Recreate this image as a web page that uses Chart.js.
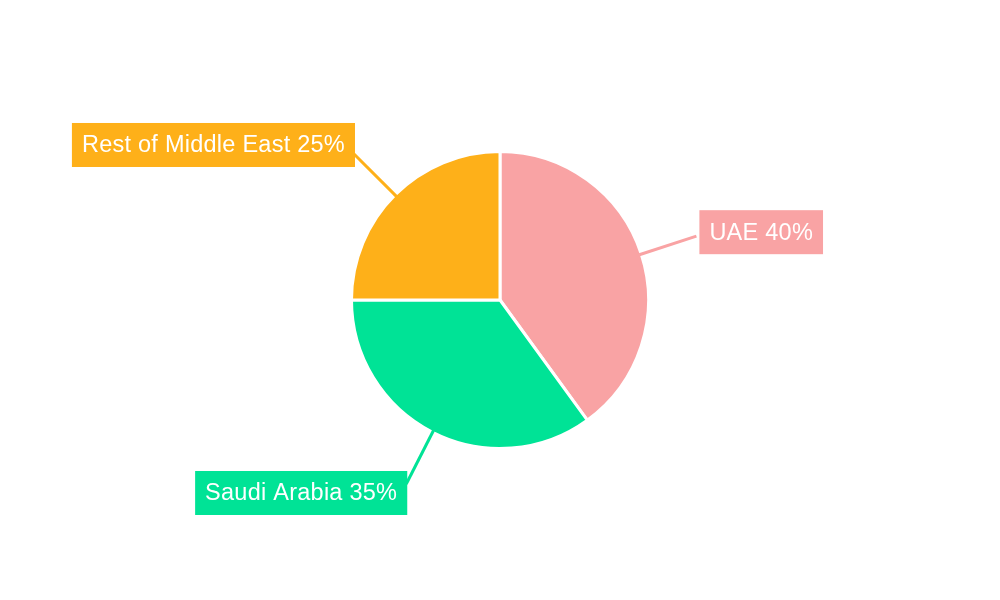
<!DOCTYPE html>
<html>
<head>
<meta charset="utf-8">
<script src="https://cdn.jsdelivr.net/npm/chart.js@4/dist/chart.umd.min.js"></script>
<style>
    body { margin: 0; background: #ffffff; }
    #wrap { width: 1000px; height: 600px; position: relative; }
</style>
</head>
<body>
<div id="wrap"><canvas id="regionChart"></canvas></div>
<script>
const regions = ['UAE', 'Saudi Arabia', 'Rest of Middle East'];
const shares = [40, 35, 25];
const sliceColors = ['#F9A3A4', '#00E396', '#FEB019'];

// draws the callout lines and the coloured label boxes
const calloutPlugin = {
    id: 'callouts',
    afterDatasetsDraw(chart) {
        const ctx = chart.ctx;
        const arcs = chart.getDatasetMeta(0).data;
        ctx.save();
        ctx.font = '23.5px "Liberation Sans", Arial, sans-serif';
        ctx.letterSpacing = '0.25px';
        ctx.textBaseline = 'middle';
        arcs.forEach((arc, i) => {
            const mid = (arc.startAngle + arc.endAngle) / 2;
            const r0 = arc.outerRadius - 2;
            const r1 = arc.outerRadius + 58;
            const x0 = arc.x + Math.cos(mid) * r0;
            const y0 = arc.y + Math.sin(mid) * r0;
            const x1 = arc.x + Math.cos(mid) * r1;
            const y1 = arc.y + Math.sin(mid) * r1;

            ctx.strokeStyle = sliceColors[i];
            ctx.lineWidth = 3;
            ctx.beginPath();
            ctx.moveTo(x0, y0);
            ctx.lineTo(x1, y1);
            ctx.stroke();

            const text = regions[i] + ' ' + shares[i] + '%';
            const w = ctx.measureText(text).width + 20;
            const h = 44;
            let bx, cy;
            if (x1 >= arc.x) {
                bx = x1 + 3;
                cy = y1 - 4;
            } else {
                bx = x1 + 1 - w;
                cy = y1 < arc.y ? y1 - 9 : y1 + 9;
            }
            ctx.fillStyle = sliceColors[i];
            ctx.fillRect(bx, cy - h / 2, w, h);
            ctx.fillStyle = '#ffffff';
            ctx.textAlign = 'left';
            ctx.fillText(text, bx + 10, cy + 1);
        });
        ctx.restore();
    }
};

const ctx = document.getElementById('regionChart');
const regionChart = new Chart(ctx, {
    type: 'pie',
    data: {
        labels: regions,
        datasets: [
            {
                data: shares,
                backgroundColor: sliceColors,
                borderColor: '#ffffff',
                borderWidth: 3,
                hoverOffset: 0,
            },
        ],
    },
    options: {
        responsive: true,
        maintainAspectRatio: false,
        animation: false,
        layout: {
            padding: { top: 150, bottom: 150, left: 0, right: 0 },
        },
        plugins: {
            legend: { display: false },
            tooltip: { enabled: false },
            title: { display: false },
        },
    },
    plugins: [calloutPlugin],
});
</script>
</body>
</html>
